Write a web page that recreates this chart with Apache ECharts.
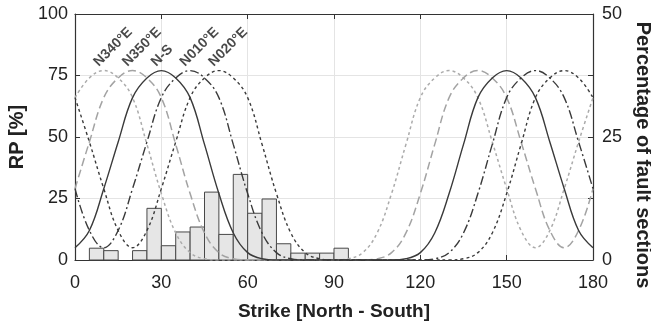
<!DOCTYPE html>
<html>
<head>
<meta charset="utf-8">
<script src="https://cdn.jsdelivr.net/npm/echarts@6/dist/echarts.min.js"></script>
<style>
  html, body { margin: 0; padding: 0; background: #fff; }
  #chart { width: 651px; height: 324px; }
</style>
</head>
<body>
<div id="chart"></div>
<script>
// strike angle of the RP samples (degrees)
var strikes = [0, 5, 10, 15, 20, 25, 30, 35, 40, 45, 50, 55, 60, 65, 70, 75, 80, 85, 90,
  95, 100, 105, 110, 115, 120, 125, 130, 135, 140, 145, 150, 155, 160, 165, 170, 175, 180];

// RP [%], one per orientation
var rpN340E = [66, 74, 77, 74, 66, 47, 27, 11, 3, 0.5, 0, 0, 0, 0, 0, 0, 0, 0, 0,
  0.5, 3, 11, 27, 47, 66, 74, 77, 74, 66, 48, 29, 12, 5, 12, 29, 48, 66];
var rpN350E = [29, 48, 66, 74, 77, 74, 66, 47, 27, 11, 3, 0.5, 0, 0, 0, 0, 0, 0, 0,
  0, 0, 0.5, 3, 11, 27, 47, 66, 74, 77, 74, 66, 48, 29, 12, 5, 12, 29];
var rpNS = [5, 12, 29, 48, 66, 74, 77, 74, 66, 47, 27, 11, 3, 0.5, 0, 0, 0, 0, 0,
  0, 0, 0, 0, 0.5, 3, 11, 27, 47, 66, 74, 77, 74, 66, 48, 29, 12, 5];
var rpN010E = [29, 12, 5, 12, 29, 48, 66, 74, 77, 74, 66, 47, 27, 11, 3, 0.5, 0, 0, 0,
  0, 0, 0, 0, 0, 0, 0.5, 3, 11, 27, 47, 66, 74, 77, 74, 66, 48, 29];
var rpN020E = [66, 48, 29, 12, 5, 12, 29, 48, 66, 74, 77, 74, 66, 47, 27, 11, 3, 0.5, 0,
  0, 0, 0, 0, 0, 0, 0, 0, 0.5, 3, 11, 27, 47, 66, 74, 77, 74, 66];

var curveNames = ['N340°E', 'N350°E', 'N-S', 'N010°E', 'N020°E'];
var peakStrikes = [10, 20, 30, 40, 50];

// histogram of fault sections, 5 degree bins
var binStart = [5, 10, 20, 25, 30, 35, 40, 45, 50, 55, 60, 65, 70, 75, 80, 85, 90];
var binWidth = 5;
var binPercent = [2.4, 1.9, 1.9, 10.5, 2.9, 5.7, 6.7, 13.8, 5.2, 17.4, 9.5, 12.4, 3.3, 1.4, 1.4, 1.4, 2.4];

var chart = echarts.init(document.getElementById('chart'));
var font = 'Liberation Sans, Arial, sans-serif';

function pairs(ys) {
  return strikes.map(function (s, i) { return [s, ys[i]]; });
}

var curves = [rpN340E, rpN350E, rpNS, rpN010E, rpN020E];
var styles = [
  { color: '#ababab', type: [3, 3], width: 1.5 },
  { color: '#a3a3a3', type: [8, 4], width: 1.5 },
  { color: '#3a3a3a', type: 'solid', width: 1.4 },
  { color: '#3a3a3a', type: [9, 3, 2, 3], width: 1.4 },
  { color: '#3a3a3a', type: [3, 3], width: 1.4 }
];

var series = [{
  type: 'custom',
  xAxisIndex: 0,
  yAxisIndex: 1,
  z: 1,
  renderItem: function (params, api) {
    var p0 = api.coord([api.value(0), api.value(2)]);
    var p1 = api.coord([api.value(1), 0]);
    return {
      type: 'rect',
      shape: { x: p0[0], y: p0[1], width: p1[0] - p0[0], height: p1[1] - p0[1] },
      style: { fill: '#e6e6e6', stroke: '#484848', lineWidth: 1 }
    };
  },
  data: binStart.map(function (b, i) { return [b, b + binWidth, binPercent[i]]; })
}];

curves.forEach(function (c, i) {
  series.push({
    name: curveNames[i],
    type: 'line',
    xAxisIndex: 0,
    yAxisIndex: 0,
    smooth: 0.4,
    showSymbol: false,
    z: 3,
    lineStyle: styles[i],
    data: pairs(c)
  });
});

series.push({
  type: 'scatter',
  xAxisIndex: 0,
  yAxisIndex: 0,
  symbolSize: 0,
  z: 5,
  label: {
    show: true,
    position: [0, 0],
    align: 'left',
    verticalAlign: 'bottom',
    rotate: 45,
    offset: [-1, -3],
    fontFamily: font,
    fontSize: 14,
    fontWeight: 'bold',
    color: '#1a1a1a',
    formatter: function (p) { return p.data[2]; }
  },
  data: peakStrikes.map(function (s, i) { return [s, Math.max.apply(null, curves[i]), curveNames[i]]; })
});

var axisLine = { show: true, onZero: false, lineStyle: { color: '#333', width: 1.2 } };
var axisTick = { show: true, inside: true, length: 5, lineStyle: { color: '#333' } };

var option = {
  animation: false,
  backgroundColor: '#fff',
  grid: { left: 75, right: 58, top: 14, bottom: 64, outerBoundsMode: 'none' },
  xAxis: [{
    type: 'value',
    position: 'bottom',
    min: 0,
    max: 180,
    interval: 30,
    name: 'Strike [North - South]',
    nameLocation: 'middle',
    nameGap: 42,
    nameTextStyle: { fontFamily: font, fontSize: 19, fontWeight: 'bold', color: '#222' },
    axisLine: axisLine,
    axisTick: axisTick,
    axisLabel: { fontFamily: font, fontSize: 18, color: '#222', margin: 14 },
    splitLine: { show: true, lineStyle: { color: '#e4e4e4', width: 1 } }
  }, {
    type: 'value',
    position: 'top',
    min: 0,
    max: 180,
    interval: 30,
    axisLine: axisLine,
    axisTick: axisTick,
    axisLabel: { show: false },
    splitLine: { show: false }
  }],
  yAxis: [{
    type: 'value',
    position: 'left',
    min: 0,
    max: 100,
    interval: 25,
    name: 'RP [%]',
    nameLocation: 'middle',
    nameGap: 47,
    nameTextStyle: { fontFamily: font, fontSize: 20, fontWeight: 'bold', color: '#222' },
    axisLine: axisLine,
    axisTick: axisTick,
    axisLabel: { fontFamily: font, fontSize: 18, color: '#222', margin: 7 },
    splitLine: { show: true, lineStyle: { color: '#e4e4e4', width: 1 } }
  }, {
    type: 'value',
    position: 'right',
    min: 0,
    max: 50,
    interval: 12.5,
    name: 'Percentage of fault sections',
    nameLocation: 'middle',
    nameRotate: -90,
    nameGap: 27,
    nameTextStyle: { fontFamily: font, fontSize: 20, fontWeight: 'bold', color: '#222', padding: [0, 0, 0, 36] },
    axisLine: axisLine,
    axisTick: axisTick,
    axisLabel: {
      fontFamily: font, fontSize: 18, color: '#222', margin: 9,
      formatter: function (v) { return v % 25 === 0 ? String(v) : ''; }
    },
    splitLine: { show: false }
  }],
  series: series
};

chart.setOption(option);
</script>
</body>
</html>
